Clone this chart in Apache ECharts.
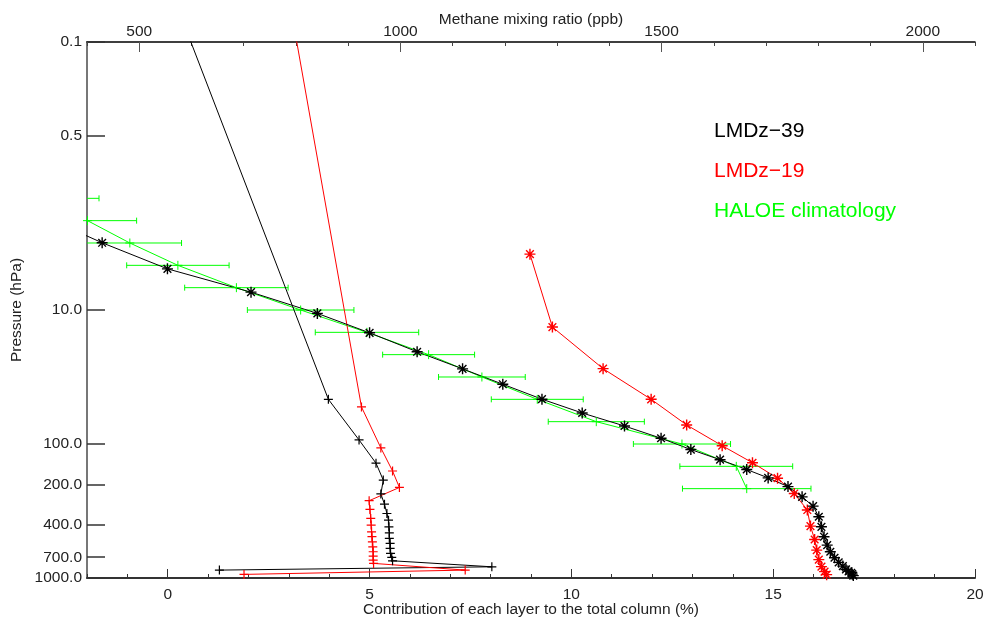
<!DOCTYPE html>
<html>
<head>
<meta charset="utf-8">
<title>Methane profiles</title>
<script src="https://cdn.jsdelivr.net/npm/echarts@6/dist/echarts.min.js"></script>
<style>
html, body { margin: 0; padding: 0; background: #fff; }
#main { width: 985px; height: 618px; }
</style>
</head>
<body>
<div id="main"></div>
<script>
// contribution of each layer to the total column (%), bottom axis
var lmdz39Contrib = [0.45, 3.98, 4.74, 5.16, 5.34, 5.28, 5.37, 5.43, 5.47, 5.48, 5.49, 5.49, 5.51, 5.51, 5.52, 5.55, 5.57, 8.03, 1.28];
var lmdz39ContribPres = [0.08, 46.4, 93.3, 139, 186, 236, 281, 330, 370, 415, 460, 506, 552, 601, 655, 701, 744, 825, 873];
var lmdz19Contrib = [3.14, 4.80, 5.28, 5.57, 5.74, 4.99, 5.01, 5.03, 5.04, 5.05, 5.06, 5.07, 5.08, 5.09, 5.09, 5.09, 5.10, 7.37, 1.89];
var lmdz19ContribPres = [0.08, 52.9, 107, 159, 211, 265, 308, 359, 403, 452, 492, 537, 585, 637, 686, 735, 778, 873, 940];

// methane mixing ratio (ppb), top axis
var lmdz39Ch4 = [316, 429, 554, 714, 841, 941, 1032, 1119, 1196, 1271, 1348, 1429, 1499, 1556, 1612, 1663, 1704, 1742, 1769, 1790, 1801, 1806, 1811, 1817, 1823, 1831, 1839, 1847, 1853, 1858, 1863, 1865, 1867];
var lmdz39Ch4Pres = [2.0, 3.15, 4.93, 7.36, 10.6, 14.8, 20.5, 27.5, 35.8, 46.3, 58.7, 73.4, 90.6, 110, 131, 155, 179, 208, 248, 291, 349, 415, 492, 568, 637, 706, 764, 815, 863, 893, 914, 936, 960];
var lmdz19Ch4 = [1248, 1291, 1388, 1480, 1548, 1616, 1674, 1722, 1754, 1779, 1785, 1793, 1797, 1801, 1806, 1812, 1816];
var lmdz19Ch4Pres = [3.83, 13.4, 27.4, 46.4, 72.1, 103, 138, 180, 234, 311, 410, 516, 619, 729, 822, 896, 944];

// HALOE climatology, mean and half width of the bar
var haloePres = [1.468, 2.154, 3.162, 4.642, 6.813, 10, 14.68, 21.54, 31.62, 46.42, 68.13, 100, 146.8, 215.4];
var haloeCh4 = [327, 401, 482, 574, 686, 809, 936, 1054, 1156, 1262, 1375, 1539, 1643, 1663];
var haloeErr = [96, 94, 99, 98, 99, 102, 99, 88, 83, 88, 92, 93, 108, 123];

// tick labels
var yTicks = [0.1, 0.5, 10, 100, 200, 400, 700, 1000];
var xTicksBottom = [0, 5, 10, 15, 20];
var xTicksTop = [500, 1000, 1500, 2000];

var legendNames = ['LMDz\u221239', 'LMDz\u221219', 'HALOE climatology'];
var legendColors = ['#000000', '#ff0000', '#00ff00'];

var FONT = 'Liberation Sans, Arial, sans-serif';
var plusSymbol = 'path://M0,5L10,5M5,0L5,10';
var starSymbol = 'path://M0,5L10,5M5,0L5,10M1.5,1.5L8.5,8.5M8.5,1.5L1.5,8.5';

function pairs(xs, ys) {
    return xs.map(function (v, i) { return [v, ys[i]]; });
}

function lineSeries(name, xIdx, xs, ys, color, symbol, size, bw) {
    return {
        name: name,
        type: 'line',
        xAxisIndex: xIdx,
        yAxisIndex: 0,
        data: pairs(xs, ys),
        symbol: symbol,
        symbolSize: size,
        clip: true,
        lineStyle: { color: color, width: 1 },
        itemStyle: { color: color, borderColor: color, borderWidth: bw },
        emphasis: { disabled: true },
        z: 3
    };
}

var labelStyle = { fontFamily: FONT, fontSize: 15.5, color: '#222' };
var nameStyle = { fontFamily: FONT, fontSize: 15.5, color: '#222' };
var plain = function (v) { return String(v); };

var myChart = echarts.init(document.getElementById('main'));

var option = {
    animation: false,
    backgroundColor: '#fff',
    grid: { left: 87, right: 10, top: 42, bottom: 40, outerBoundsMode: 'none' },
    xAxis: [
        {   // bottom, minor ticks, data
            type: 'value', position: 'bottom', min: -2, max: 20, interval: 1,
            axisLine: { onZero: false, lineStyle: { color: '#333', width: 2 } },
            axisTick: { inside: true, length: 4, lineStyle: { color: '#333' } },
            axisLabel: { show: false },
            splitLine: { show: false }
        },
        {   // bottom, major ticks and labels
            type: 'value', position: 'bottom', min: -2, max: 20,
            name: 'Contribution of each layer to the total column (%)',
            nameLocation: 'middle', nameGap: 24, nameMoveOverlap: false, nameTextStyle: nameStyle,
            axisLine: { show: false, onZero: false },
            axisTick: { inside: true, length: 9, customValues: xTicksBottom, lineStyle: { color: '#333' } },
            axisLabel: Object.assign({ customValues: xTicksBottom, margin: 9, formatter: plain }, labelStyle),
            splitLine: { show: false }
        },
        {   // top, minor ticks, data
            type: 'value', position: 'top', min: 400, max: 2100, interval: 100,
            axisLine: { onZero: false, lineStyle: { color: '#000', width: 1.5 } },
            axisTick: { inside: true, length: 4, lineStyle: { color: '#444' } },
            axisLabel: { show: false },
            splitLine: { show: false }
        },
        {   // top, major ticks and labels
            type: 'value', position: 'top', min: 400, max: 2100,
            name: 'Methane mixing ratio (ppb)',
            nameLocation: 'middle', nameGap: 14, nameMoveOverlap: false, nameTextStyle: nameStyle,
            axisLine: { show: false, onZero: false },
            axisTick: { inside: true, length: 10, customValues: xTicksTop, lineStyle: { color: '#555' } },
            axisLabel: Object.assign({ customValues: xTicksTop, margin: 2, formatter: plain }, labelStyle),
            splitLine: { show: false }
        }
    ],
    yAxis: [
        {   // pressure, log scale, data
            type: 'log', logBase: 10, min: 0.1, max: 1000, inverse: true, position: 'left',
            axisLine: { onZero: false, lineStyle: { color: '#777', width: 2 } },
            axisTick: { show: false },
            axisLabel: { show: false },
            splitLine: { show: false },
            minorTick: { show: false }
        },
        {   // same axis in log10 units, only for the irregular ticks
            type: 'value', min: -1, max: 3, inverse: true, position: 'left',
            name: 'Pressure (hPa)',
            nameLocation: 'middle', nameGap: 62, nameMoveOverlap: false, nameTextStyle: nameStyle,
            axisLine: { show: false, onZero: false },
            axisTick: {
                inside: true, length: 18,
                customValues: yTicks.map(function (v) { return Math.log10(v); }),
                lineStyle: { color: '#333', width: 1.5 }
            },
            axisLabel: Object.assign({
                customValues: yTicks.map(function (v) { return Math.log10(v); }),
                margin: 5,
                formatter: function (v) { return Math.pow(10, v).toFixed(1); }
            }, labelStyle),
            splitLine: { show: false }
        }
    ],
    series: [
        {
            name: 'HALOE climatology',
            type: 'custom',
            xAxisIndex: 2,
            yAxisIndex: 0,
            clip: true,
            encode: { x: 0, y: 2 },
            data: haloeCh4.map(function (v, i) { return [v, haloeErr[i], haloePres[i]]; }),
            renderItem: function (params, api) {
                var p = api.value(2);
                var lo = api.coord([api.value(0) - api.value(1), p]);
                var hi = api.coord([api.value(0) + api.value(1), p]);
                var st = { stroke: '#00ff00', lineWidth: 1 };
                return {
                    type: 'group',
                    children: [
                        { type: 'line', shape: { x1: lo[0], y1: lo[1], x2: hi[0], y2: hi[1] }, style: st },
                        { type: 'line', shape: { x1: lo[0], y1: lo[1] - 3, x2: lo[0], y2: lo[1] + 3 }, style: st },
                        { type: 'line', shape: { x1: hi[0], y1: hi[1] - 3, x2: hi[0], y2: hi[1] + 3 }, style: st }
                    ]
                };
            },
            z: 2
        },
        lineSeries('HALOE climatology', 2, haloeCh4, haloePres, '#00ff00', plusSymbol, 9, 1),
        lineSeries('LMDz\u221239', 0, lmdz39Contrib, lmdz39ContribPres, '#000000', plusSymbol, 9, 1.2),
        lineSeries('LMDz\u221219', 0, lmdz19Contrib, lmdz19ContribPres, '#ff0000', plusSymbol, 9, 1.2),
        lineSeries('LMDz\u221219', 2, lmdz19Ch4, lmdz19Ch4Pres, '#ff0000', starSymbol, 11, 1.4),
        lineSeries('LMDz\u221239', 2, lmdz39Ch4, lmdz39Ch4Pres, '#000000', starSymbol, 11, 1.4)
    ],
    graphic: legendNames.map(function (n, i) {
        return {
            type: 'text',
            left: 714,
            top: 121 + i * 40,
            style: { text: n, fill: legendColors[i], font: '21px ' + FONT }
        };
    })
};

myChart.setOption(option);
</script>
</body>
</html>
